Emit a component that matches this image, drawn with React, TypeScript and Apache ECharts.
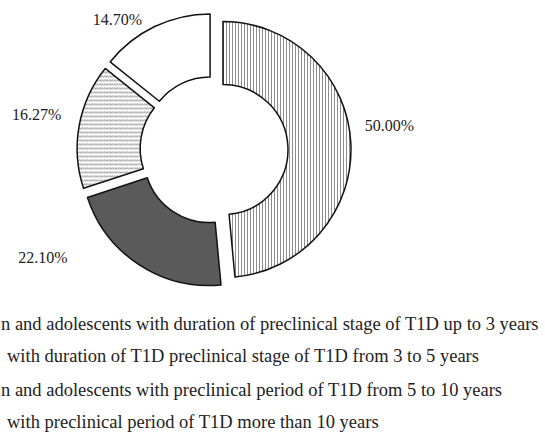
import React, { useEffect, useRef } from 'react';
import * as echarts from 'echarts';

// Legend texts as they appear (the left part is cut off in the reference)
const categories = [
  'n and adolescents with duration of preclinical stage of T1D up to 3 years',
  'with duration of T1D preclinical stage of T1D from 3 to 5 years',
  'n and adolescents with preclinical period of T1D from 5 to 10 years',
  'with preclinical period of T1D more than 10 years',
];
const shares = [50.0, 22.1, 16.27, 14.7];

const FONT = '"Liberation Serif", "Times New Roman", serif';

function svgUrl(svg: string) {
  return 'data:image/svg+xml;charset=utf-8,' + encodeURIComponent(svg);
}

const stripeTile = svgUrl(
  '<svg xmlns="http://www.w3.org/2000/svg" width="3" height="10">' +
    '<rect width="3" height="10" fill="#ffffff"/>' +
    '<rect x="1" y="0" width="1" height="10" fill="#8c8c8c"/>' +
    '</svg>'
);
const waveTile = svgUrl(
  '<svg xmlns="http://www.w3.org/2000/svg" width="5" height="4">' +
    '<rect width="5" height="4" fill="#ffffff"/>' +
    '<path d="M0 3 L1.25 1.2 L2.5 3 L3.75 1.2 L5 3" fill="none" stroke="#858585" stroke-width="0.9"/>' +
    '</svg>'
);

const fills: any[] = [
  { image: stripeTile, repeat: 'repeat', imageWidth: 3, imageHeight: 10 },
  '#5a5a5a',
  { image: waveTile, repeat: 'repeat', imageWidth: 5, imageHeight: 4 },
  '#ffffff',
];

// small label nudges (px) to match the reference placement
const labelNudge = [
  [-6, -17],
  [-58, -20],
  [2, -8],
  [-1, 6],
];

export default function App() {
  const ref = useRef<HTMLDivElement>(null);
  useEffect(() => {
    const chart = echarts.init(ref.current!, null, { renderer: 'svg' });
    const legendBase = {
      orient: 'vertical' as const,
      padding: 0,
      itemWidth: 0,
      itemHeight: 20,
      itemGap: 44,
      icon: 'rect',
      itemStyle: { opacity: 0 },
      selectedMode: false,
      textStyle: { fontFamily: FONT, fontSize: 18.5, lineHeight: 20, color: '#222' },
    };
    chart.setOption({
      animation: false,
      backgroundColor: '#ffffff',
      legend: [
        { ...legendBase, left: -5, top: 313, data: [categories[0], categories[2]] },
        { ...legendBase, left: 1, top: 345, data: [categories[1], categories[3]] },
      ],
      series: [
        {
          type: 'pie',
          center: [214, 150],
          radius: [65, 128],
          startAngle: 90,
          clockwise: true,
          selectedMode: 'multiple',
          selectedOffset: 9,
          avoidLabelOverlap: false,
          silent: true,
          emphasis: { disabled: true },
          itemStyle: { borderColor: '#111', borderWidth: 1.5 },
          label: {
            show: true,
            position: 'outside',
            fontFamily: FONT,
            fontSize: 16,
            color: '#222',
            formatter: (p: any) => Number(p.value).toFixed(2) + '%',
          },
          labelLine: { show: false, length: 15, length2: 0 },
          labelLayout: (p: any) => ({
            dx: labelNudge[p.dataIndex][0],
            dy: labelNudge[p.dataIndex][1],
          }),
          data: shares.map((v, i) => ({
            name: categories[i],
            value: v,
            selected: true,
            itemStyle: { color: fills[i] },
          })),
        },
      ],
    });
    return () => chart.dispose();
  }, []);
  return (
    <div
      ref={ref}
      style={{ position: 'fixed', left: 0, top: 0, width: 545, height: 434 }}
    />
  );
}
